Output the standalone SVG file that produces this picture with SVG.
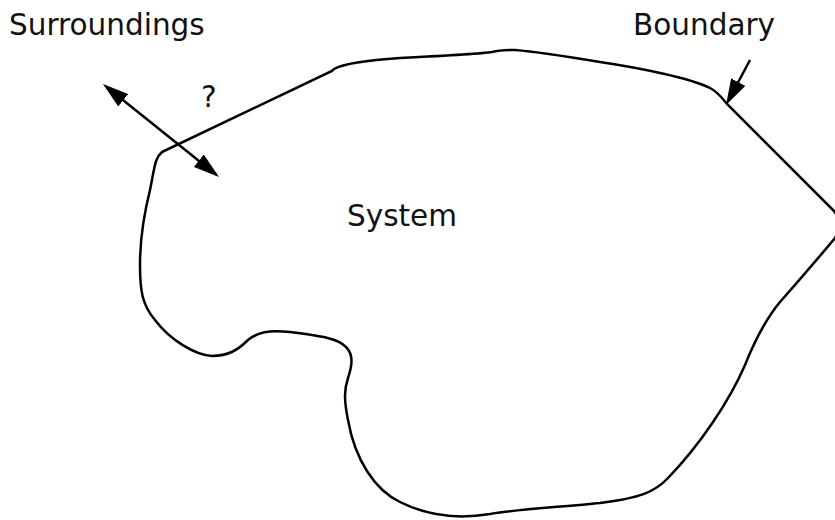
<svg xmlns="http://www.w3.org/2000/svg" width="835" height="520" viewBox="0 0 835 520">
<style>
.lbl{font-family:"DejaVu Sans","Noto Sans",sans-serif;font-size:29.5px;fill:#111}
.edge{fill:none;stroke:#000;stroke-width:2.5}
</style>
<defs>
<marker id="ah" viewBox="0 0 26 16" refX="22" refY="8" markerWidth="26" markerHeight="16" markerUnits="userSpaceOnUse" orient="auto-start-reverse">
<path d="M0,0 L26,8 L0,16 Z" fill="#000"/>
</marker>
</defs>
<rect width="835" height="520" fill="#fff"/>
<g id="system">
<path class="edge" d="M 162,152 L 332,71 L 334,69 C 345,63 370,60 400,58 C 440,56 480,54 492,52 C 500,50 505,50 515,50 C 540,52 570,57 600,62 C 640,68 690,78 710,88 C 718,92 722,98 727,104 L 833,210 C 838,215 842,226 835,238 C 815,262 795,285 780,302 C 765,320 755,340 745,365 C 730,400 700,445 668,478 C 655,492 640,498 600,503 C 560,507 510,510 490,514 C 460,519 430,517 400,502 C 375,490 355,460 348,420 C 344,400 344,390 348,378 C 352,366 354,355 346,347 C 338,338 320,336 290,332 C 268,330 258,332 248,340 C 238,350 228,356 212,356 C 195,355 170,340 155,320 C 142,305 140,290 140,265 C 140,240 145,210 150,190 C 155,165 155,158 162,152 Z"/>
<text class="lbl" x="347" y="226">System</text>
</g>
<g id="surroundings">
<text class="lbl" x="9" y="35">Surroundings</text>
</g>
<g id="boundary">
<text class="lbl" x="633" y="35">Boundary</text>
</g>
<g id="connectors">
<line class="edge" x1="106.1" y1="86.5" x2="215.9" y2="174.5" marker-start="url(#ah)" marker-end="url(#ah)"/>
<text class="lbl" x="201" y="107">?</text>
<line class="edge" x1="750" y1="60" x2="727.9" y2="101.5" marker-end="url(#ah)"/>
</g>
</svg>
